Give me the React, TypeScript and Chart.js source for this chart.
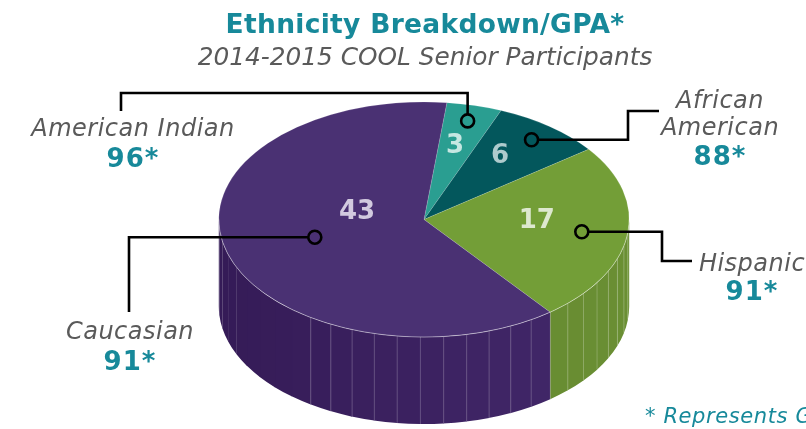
import React, { useEffect, useRef } from 'react';
import { Chart, registerables } from 'chart.js';

Chart.register(...registerables);

// ---- data ----
const categories = ['American Indian', 'African American', 'Hispanic', 'Caucasian'];
const counts = [3, 6, 17, 43];
const gpaLabels = ['96*', '88*', '91*', '91*'];
const nameLines = [['American Indian'], ['African', 'American'], ['Hispanic'], ['Caucasian']];
const titleText = 'Ethnicity Breakdown/GPA*';
const subtitleText = '2014-2015 COOL Senior Participants';
const footnoteText = '* Represents GPA Average';

// ---- styles ----
const sliceColors = ['#2A9E91', '#03575C', '#739E37', '#4A3173'];
const sideLight = ['#22867B', '#02484C', '#6A8F33', '#43296B'];
const sideDark = ['#1D7268', '#013C40', '#5F822E', '#351B57'];
const countColors = ['#C6E7E2', '#AECBCD', '#DDE8CF', '#D2CADF'];
const TEAL = '#17899A';
const GREY = '#5A5A5A';
const FONT = '"DejaVu Sans", Verdana, sans-serif';

// ---- layout ----
const TILT = 0.573;
const DEPTH = 87;
const ROTATION = 6.4;
const FACET = (6.5 * Math.PI) / 180;
const countFrac = [0.644, 0.656, 0.55, 0.333];
const countAngleOff = [-0.6, -3.3, -6.4, 27];
const anchorFrac = [0.865, 0.857, 0.776, 0.553];
const routes: [string, number][][] = [
  [['v', 93], ['h', 121], ['v', 111]],
  [['h', 628], ['v', 111], ['h', 659]],
  [['h', 662], ['v', 261], ['h', 692]],
  [['h', 129], ['v', 312]],
];
const labelPos = [
  { x: 133, lines: [136], value: 167 },
  { x: 720, lines: [108, 135], value: 165 },
  { x: 752, lines: [271], value: 300 },
  { x: 130, lines: [339], value: 370 },
];

function hexToRgb(h: string) {
  const n = parseInt(h.slice(1), 16);
  return [(n >> 16) & 255, (n >> 8) & 255, n & 255];
}
function mix(a: string, b: string, w: number) {
  const A = hexToRgb(a), B = hexToRgb(b);
  const c = A.map((v, i) => Math.round(v * (1 - w) + B[i] * w));
  return `rgb(${c[0]},${c[1]},${c[2]})`;
}

const pie3d = {
  id: 'pie3d',
  beforeDatasetsDraw(chart: any) {
    const arcs = chart.getDatasetMeta(0).data;
    const ctx = chart.ctx as CanvasRenderingContext2D;
    ctx.save();
    if (!arcs.length) return;
    const { x: cx, y: cy, outerRadius: r } = arcs[0];
    const ry = r * TILT;
    const linesToDraw: number[] = [];
    arcs.forEach((el: any, i: number) => {
      for (const shift of [-2 * Math.PI, 0, 2 * Math.PI]) {
        const a = Math.max(el.startAngle + shift, 0);
        const b = Math.min(el.endAngle + shift, Math.PI);
        if (a >= b) continue;
        const bounds = [a];
        let t = Math.ceil(a / FACET) * FACET;
        if (t - a < 1e-6) t += FACET;
        while (t < b - 1e-6) {
          bounds.push(t);
          if (t < (127 * Math.PI) / 180) linesToDraw.push(t);
          t += FACET;
        }
        bounds.push(b);
        for (let j = 0; j < bounds.length - 1; j++) {
          const t0 = bounds[j];
          const t1 = Math.min(bounds[j + 1] + 0.003, b);
          const mid = (t0 + t1) / 2;
          const w = Math.min(1, Math.max(0, (1 - Math.cos(mid)) / 2));
          ctx.beginPath();
          ctx.ellipse(cx, cy, r, ry, 0, t0, t1, false);
          ctx.lineTo(cx + r * Math.cos(t1), cy + ry * Math.sin(t1) + DEPTH);
          ctx.ellipse(cx, cy + DEPTH, r, ry, 0, t1, t0, true);
          ctx.closePath();
          ctx.fillStyle = mix(sideLight[i], sideDark[i], w);
          ctx.fill();
        }
      }
    });
    ctx.strokeStyle = 'rgba(255,255,255,0.22)';
    ctx.lineWidth = 1;
    linesToDraw.forEach((t) => {
      const x = cx + r * Math.cos(t);
      const y = cy + ry * Math.sin(t);
      ctx.beginPath();
      ctx.moveTo(x, y);
      ctx.lineTo(x, y + DEPTH);
      ctx.stroke();
    });
    ctx.restore();
    ctx.save();
    ctx.translate(cx, cy);
    ctx.scale(1, TILT);
    ctx.translate(-cx, -cy);
  },
  afterDatasetsDraw(chart: any) {
    const ctx = chart.ctx as CanvasRenderingContext2D;
    ctx.restore();
    const arcs = chart.getDatasetMeta(0).data;
    if (!arcs.length) return;
    const { x: cx, y: cy, outerRadius: r } = arcs[0];
    const ry = r * TILT;
    // rim highlight
    ctx.save();
    ctx.strokeStyle = 'rgba(255,255,255,0.35)';
    ctx.lineWidth = 1;
    ctx.beginPath();
    ctx.ellipse(cx, cy, r, ry, 0, 0, Math.PI);
    ctx.stroke();
    ctx.restore();

    const pt = (ang: number, f: number) => [cx + f * r * Math.cos(ang), cy + f * ry * Math.sin(ang)];

    // count labels
    ctx.save();
    ctx.font = `bold 26px ${FONT}`;
    ctx.textAlign = 'center';
    ctx.textBaseline = 'middle';
    arcs.forEach((el: any, i: number) => {
      const mid = (el.startAngle + el.endAngle) / 2 + (countAngleOff[i] * Math.PI) / 180;
      const [x, y] = pt(mid, countFrac[i]);
      ctx.fillStyle = countColors[i];
      ctx.fillText(String(counts[i]), x, y);
    });
    ctx.restore();

    // callouts
    ctx.save();
    ctx.strokeStyle = '#000';
    ctx.lineWidth = 2.6;
    const cr = 6.5;
    arcs.forEach((el: any, i: number) => {
      const mid = (el.startAngle + el.endAngle) / 2;
      const [x0, y0] = pt(mid, anchorFrac[i]);
      ctx.beginPath();
      ctx.arc(x0, y0, cr, 0, Math.PI * 2);
      ctx.stroke();
      const first = routes[i][0];
      let x = x0, y = y0;
      if (first[0] === 'v') y = first[1] < y0 ? y0 - cr : y0 + cr;
      else x = first[1] < x0 ? x0 - cr : x0 + cr;
      ctx.beginPath();
      ctx.moveTo(x, y);
      routes[i].forEach(([d, v]) => {
        if (d === 'v') y = v; else x = v;
        ctx.lineTo(x, y);
      });
      ctx.lineJoin = 'miter';
      ctx.stroke();
    });
    ctx.restore();
  },
  afterDraw(chart: any) {
    const ctx = chart.ctx as CanvasRenderingContext2D;
    ctx.save();
    ctx.textAlign = 'center';
    ctx.textBaseline = 'alphabetic';
    ctx.fillStyle = TEAL;
    ctx.font = `bold 26.5px ${FONT}`;
    (ctx as any).letterSpacing = '0.3px';
    ctx.fillText(titleText, 425, 33);
    (ctx as any).letterSpacing = '0px';
    ctx.fillStyle = GREY;
    ctx.font = `oblique 24.8px ${FONT}`;
    ctx.fillText(subtitleText, 425, 65);

    labelPos.forEach((p, i) => {
      ctx.fillStyle = GREY;
      ctx.font = `oblique 24px ${FONT}`;
      (ctx as any).letterSpacing = '0.5px';
      nameLines[i].forEach((s, j) => ctx.fillText(s, p.x, p.lines[j]));
      ctx.fillStyle = TEAL;
      ctx.font = `bold 26px ${FONT}`;
      (ctx as any).letterSpacing = '1px';
      ctx.fillText(gpaLabels[i], p.x, p.value);
    });
    ctx.textAlign = 'left';
    ctx.fillStyle = TEAL;
    ctx.font = `oblique 21px ${FONT}`;
    (ctx as any).letterSpacing = '0.6px';
    ctx.fillText(footnoteText, 645, 423);
    ctx.restore();
  },
};

export default function App() {
  const ref = useRef<HTMLCanvasElement | null>(null);
  useEffect(() => {
    if (!ref.current) return;
    const chart = new Chart(ref.current, {
      type: 'pie',
      data: {
        labels: categories,
        datasets: [
          {
            data: counts,
            backgroundColor: sliceColors,
            borderColor: 'rgba(255,255,255,0.3)',
            borderWidth: 0.6,
            hoverOffset: 0,
            clip: false as any,
          },
        ],
      },
      options: {
        responsive: true,
        maintainAspectRatio: false,
        animation: false,
        rotation: ROTATION,
        layout: { padding: { top: 14, bottom: 4, left: 60, right: 18 } },
        plugins: {
          legend: { display: false },
          tooltip: { enabled: false },
          title: { display: false },
        },
        events: [],
      },
      plugins: [pie3d],
    });
    return () => chart.destroy();
  }, []);
  return (
    <div style={{ position: 'fixed', left: 0, top: 0, width: 806, height: 429, background: '#fff' }}>
      <canvas ref={ref} />
    </div>
  );
}
